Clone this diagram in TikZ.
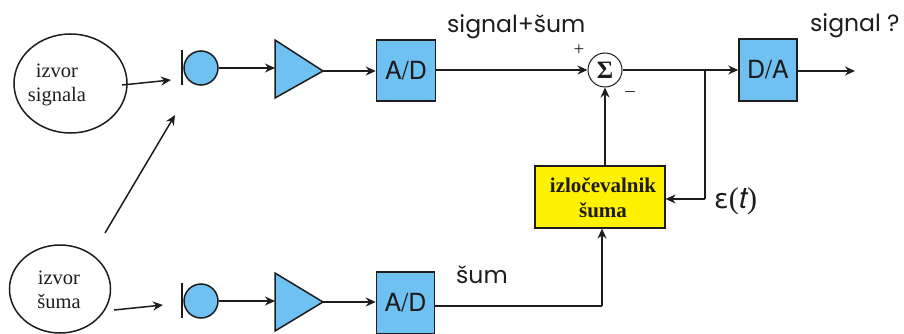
\documentclass[tikz,border=0pt]{standalone}
\usepackage{fontspec}
\setmainfont{Liberation Serif}
\newfontfamily\gothic{Poppins}
\newfontfamily\heros{TeX Gyre Heros}
\newfontfamily\dejav{DejaVu Sans}
\usetikzlibrary{arrows.meta,shapes.geometric}
\definecolor{bluef}{RGB}{110,193,240}
\definecolor{linec}{RGB}{30,28,28}
\tikzset{
  x=1pt,y=-1pt,
  wire/.style={draw=linec,line width=1.5pt,-{Stealth[length=10pt,width=9pt]}},
  plainwire/.style={draw=linec,line width=1.5pt},
  srcnode/.style={draw=linec,line width=1.5pt,ellipse,inner sep=0pt},
  srctext/.style={inner sep=0pt,align=center,font=\fontsize{20.5}{23.5}\selectfont,text=linec},
  bluebox/.style={draw=linec,line width=1.5pt,fill=bluef,rectangle,inner sep=0pt,font=\heros\fontsize{25}{26}\selectfont,text=linec},
  micball/.style={draw=linec,line width=1.5pt,fill=bluef,circle,inner sep=0pt,minimum size=34pt},
  ampshape/.style={draw=linec,line width=1.5pt,fill=bluef,line join=miter},
  lbl/.style={inner sep=0pt,font=\gothic\fontsize{23.5}{26}\selectfont,text=linec},
  sign/.style={inner sep=0pt,font=\fontsize{19}{20}\selectfont,text=linec}
}
\begin{document}
\begin{tikzpicture}
\useasboundingbox (0,0) rectangle (904,334);
\clip (0,0) rectangle (904,334);
% sources
\node[srcnode,minimum width=113pt,minimum height=99pt] (s1) at (70.5,83.5) {};
\node[srctext] (s1t) at (57,85) {izvor\\signala};
\node[srcnode,minimum width=101pt,minimum height=88pt] (s2) at (60,289) {};
\node[srctext] (s2t) at (59,290) {izvor\\šuma};
% microphones
\node[micball] (m1) at (201,68) {};
\coordinate (b1a) at (182,50); \coordinate (b1b) at (182,85);
\draw[plainwire] (b1a) -- (b1b);
\node[micball] (m2) at (201,301) {};
\coordinate (b2a) at (182,283); \coordinate (b2b) at (182,318);
\draw[plainwire] (b2a) -- (b2b);
% amplifiers
\coordinate (a1w) at (275,68); \coordinate (a1e) at (323,71);
\draw[ampshape] (275,40) -- (a1e) -- (275,98) -- cycle;
\coordinate (a2w) at (275,301); \coordinate (a2e) at (323,302);
\draw[ampshape] (275,273) -- (a2e) -- (275,331) -- cycle;
% boxes
\node[bluebox,minimum width=59pt,minimum height=61pt] (ad1) at (406,70.5) {A/D};
\node[bluebox,minimum width=58pt,minimum height=62pt] (ad2) at (405.5,303) {A/D};
\node[bluebox,minimum width=58pt,minimum height=62pt] (da) at (768,70) {D/A};
\node[draw=linec,line width=1pt,circle,inner sep=0pt,minimum size=34pt,fill=white,font=\fontsize{25}{26}\selectfont\bfseries,text=linec] (sum) at (605,70) {Σ};
\node[draw=linec,line width=1.2pt,fill=yellow,rectangle,inner sep=0pt,minimum width=130pt,minimum height=62pt] (ext) at (600,197) {};
\node[inner sep=0pt,align=center,text=linec,font=\bfseries\fontsize{21}{25}\selectfont] (extt) at (603,198) {izločevalnik\\šuma};
% connectors
\coordinate (e1a) at (122,85); \coordinate (e1b) at (171,80);
\draw[wire] (e1a) -- (e1b);
\coordinate (e2a) at (114,310); \coordinate (e2b) at (163,305);
\draw[wire] (e2a) -- (e2b);
\coordinate (e3a) at (105,233); \coordinate (e3b) at (175,115);
\draw[wire] (e3a) -- (e3b);
\draw[wire] (m1.east) -- (a1w);
\draw[wire] (m2.east) -- (a2w);
\draw[wire] (a1e) -- (ad1.west |- a1e);
\draw[wire] (a2e) -- (ad2.west |- a2e);
\draw[wire] (ad1.east |- sum.west) -- (sum.west);
\draw[wire] (sum.east) -- (da.west);
\coordinate (out) at (855,71);
\draw[wire] (da.east |- out) -- (out);
\coordinate (j) at (705,70);
\coordinate (jb) at (705,199);
\draw[plainwire] (j) -- (jb);
\draw[wire] (jb) -- (ext.east |- jb);
\draw[wire] (sum.south |- ext.north) -- (sum.south);
\coordinate (c) at (602,306);
\draw[plainwire] (ad2.east |- c) -- (c);
\draw[wire] (c) -- (c |- ext.south);
% labels
\node[lbl,anchor=base west] (l1) at (447,33) {signal+šum};
\node[lbl,anchor=base west] (l2) at (810,32) {signal ?};
\node[lbl,anchor=base west] (l3) at (456,283) {šum};
\node[sign] (pl) at (579,50) {+};
\node[sign] (mn) at (630,94) {–};
\node[inner sep=0pt,anchor=base west,font=\fontsize{30}{32}\selectfont,text=linec] (eps) at (714,208) {{\dejav\fontsize{27}{30}\selectfont ε}({\heros\itshape t})};
\end{tikzpicture}
\end{document}
